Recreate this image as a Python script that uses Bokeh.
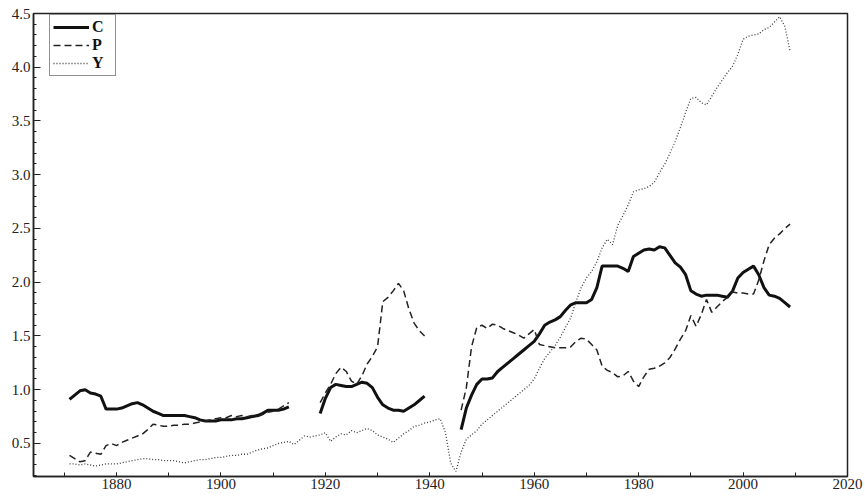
import numpy as np
from bokeh.plotting import figure
from bokeh.models import Range1d, FixedTicker, Legend, LegendItem, CustomJSTickFormatter
from bokeh.embed import file_html
from bokeh.resources import INLINE

# ---------------- data ----------------
years = list(range(1871, 2010))

# C series (solid) - three segments
C_seg1_start = 1871
C_seg1 = [0.91, 0.95, 0.99, 1.00, 0.97, 0.96, 0.94, 0.82, 0.82, 0.82,
          0.83, 0.85, 0.87, 0.88, 0.86, 0.83, 0.80, 0.78, 0.76, 0.76,
          0.76, 0.76, 0.76, 0.75, 0.74, 0.72, 0.71, 0.71, 0.71, 0.72,
          0.72, 0.72, 0.73, 0.73, 0.74, 0.75, 0.76, 0.78, 0.81, 0.81,
          0.81, 0.82, 0.84]
C_seg2_start = 1919
C_seg2 = [0.78, 0.92, 1.02, 1.05, 1.04, 1.03, 1.03, 1.05, 1.07, 1.06,
          1.02, 0.93, 0.86, 0.83, 0.81, 0.81, 0.80, 0.83, 0.86, 0.90, 0.94]
C_seg3_start = 1946
C_seg3 = [0.63, 0.83, 0.95, 1.05, 1.10, 1.10, 1.11, 1.17, 1.21, 1.25,
          1.29, 1.33, 1.37, 1.41, 1.45, 1.52, 1.60, 1.63, 1.65, 1.68,
          1.74, 1.79, 1.81, 1.81, 1.81, 1.84, 1.95, 2.15, 2.15, 2.15,
          2.15, 2.13, 2.10, 2.24, 2.27, 2.30, 2.31, 2.30, 2.33, 2.32,
          2.25, 2.18, 2.14, 2.07, 1.92, 1.89, 1.87, 1.88, 1.88, 1.88,
          1.87, 1.86, 1.92, 2.04, 2.09, 2.12, 2.15, 2.07, 1.95, 1.88,
          1.87, 1.85, 1.81, 1.77]

# P series (dashed) - three segments
P_seg1_start = 1871
P_seg1 = [0.39, 0.36, 0.33, 0.34, 0.42, 0.41, 0.40, 0.48, 0.50, 0.48,
          0.51, 0.53, 0.55, 0.57, 0.59, 0.63, 0.68, 0.67, 0.66, 0.66,
          0.67, 0.67, 0.68, 0.68, 0.69, 0.70, 0.71, 0.72, 0.73, 0.74,
          0.74, 0.76, 0.75, 0.76, 0.75, 0.76, 0.75, 0.77, 0.79, 0.80,
          0.82, 0.85, 0.88]
P_seg2_start = 1919
P_seg2 = [0.88, 0.97, 1.05, 1.15, 1.21, 1.17, 1.08, 1.05, 1.13, 1.24,
          1.31, 1.40, 1.82, 1.86, 1.92, 1.99, 1.92, 1.75, 1.62, 1.55, 1.50]
P_seg3_start = 1946
P_seg3 = [0.81, 1.02, 1.40, 1.58, 1.60, 1.57, 1.61, 1.60, 1.57, 1.55,
          1.53, 1.51, 1.48, 1.52, 1.56, 1.42, 1.41, 1.40, 1.39, 1.39,
          1.39, 1.40, 1.45, 1.48, 1.47, 1.42, 1.37, 1.22, 1.18, 1.16,
          1.12, 1.13, 1.17, 1.08, 1.03, 1.12, 1.19, 1.20, 1.22, 1.25,
          1.30, 1.38, 1.47, 1.55, 1.69, 1.59, 1.70, 1.84, 1.72, 1.77,
          1.82, 1.86, 1.91, 1.90, 1.90, 1.89, 1.89, 2.02, 2.20, 2.35,
          2.41, 2.45, 2.50, 2.54]

# Y series (dotted) - continuous 1871-2009
Y_vals = [0.31, 0.31, 0.30, 0.31, 0.30, 0.29, 0.30, 0.31, 0.31, 0.31,
          0.32, 0.33, 0.34, 0.35, 0.36, 0.36, 0.35, 0.35, 0.34, 0.34,
          0.34, 0.33, 0.32, 0.33, 0.34, 0.35, 0.35, 0.36, 0.37, 0.37,
          0.38, 0.39, 0.39, 0.40, 0.40, 0.42, 0.44, 0.45, 0.46, 0.48,
          0.50, 0.51, 0.52, 0.49, 0.53, 0.57, 0.56, 0.57, 0.58, 0.60,
          0.52, 0.56, 0.59, 0.58, 0.62, 0.60, 0.62, 0.64, 0.62, 0.58,
          0.56, 0.54, 0.51, 0.55, 0.59, 0.62, 0.66, 0.67, 0.69, 0.70,
          0.72, 0.73, 0.60, 0.32, 0.24, 0.42, 0.54, 0.58, 0.62, 0.68,
          0.72, 0.76, 0.80, 0.84, 0.88, 0.92, 0.96, 1.00, 1.04, 1.10,
          1.20, 1.29, 1.35, 1.41, 1.49, 1.58, 1.67, 1.82, 1.95, 2.04,
          2.10, 2.19, 2.32, 2.40, 2.35, 2.53, 2.62, 2.72, 2.84, 2.86,
          2.87, 2.89, 2.93, 3.02, 3.10, 3.20, 3.31, 3.44, 3.58, 3.71,
          3.72, 3.67, 3.65, 3.73, 3.81, 3.88, 3.95, 4.01, 4.12, 4.26,
          4.29, 4.30, 4.31, 4.35, 4.37, 4.42, 4.47, 4.38, 4.15]

x_ticks = [1880, 1900, 1920, 1940, 1960, 1980, 2000, 2020]
x_minor = [1870, 1880, 1890, 1900, 1910, 1920, 1930, 1940, 1950, 1960,
           1970, 1980, 1990, 2000, 2010, 2020]
y_ticks = [0.5, 1.0, 1.5, 2.0, 2.5, 3.0, 3.5, 4.0, 4.5]
y_minor = [round(0.2 + 0.1 * i, 1) for i in range(44)]


def assemble(segments):
    arr = np.full(len(years), np.nan)
    for start, vals in segments:
        i0 = start - years[0]
        arr[i0:i0 + len(vals)] = vals
    return arr


C = assemble([(C_seg1_start, C_seg1), (C_seg2_start, C_seg2), (C_seg3_start, C_seg3)])
P = assemble([(P_seg1_start, P_seg1), (P_seg2_start, P_seg2), (P_seg3_start, P_seg3)])
Y = np.array(Y_vals, dtype=float)

FONT = "Liberation Serif"

p = figure(width=865, height=496, output_backend="svg", toolbar_location=None,
           x_range=Range1d(1864.1, 2020), y_range=Range1d(0.193, 4.5),
           min_border_left=33, min_border_right=18, min_border_top=13,
           min_border_bottom=20)
p.background_fill_color = "white"
p.border_fill_color = "white"
p.outline_line_color = "#222222"
p.outline_line_width = 1.5
p.xgrid.visible = False
p.ygrid.visible = False

lc = p.line(years, C, line_color="#111111", line_width=3.0)
lp = p.line(years, P, line_color="#222222", line_width=1.5, line_dash="7 4")
ly = p.line(years, Y, line_color="#3a3a3a", line_width=1.3, line_dash="1 2")

for ax in (p.xaxis[0], p.yaxis[0]):
    ax.axis_line_color = "#222222"
    ax.axis_line_width = 1.5
    ax.major_tick_line_color = "#222222"
    ax.minor_tick_line_color = "#222222"
    ax.major_tick_out = 0
    ax.minor_tick_out = 0
    ax.major_label_text_font = FONT
    ax.major_label_text_font_size = "15px"
    ax.major_label_text_color = "#222222"

p.xaxis[0].ticker = FixedTicker(ticks=x_ticks, minor_ticks=x_minor)
p.xaxis[0].major_tick_in = 4
p.xaxis[0].minor_tick_in = 4
p.xaxis[0].major_label_standoff = 2

p.yaxis[0].ticker = FixedTicker(ticks=y_ticks, minor_ticks=y_minor)
p.yaxis[0].major_tick_in = 7
p.yaxis[0].minor_tick_in = 3
p.yaxis[0].major_label_standoff = 3
p.yaxis[0].formatter = CustomJSTickFormatter(code="return tick.toFixed(1);")

legend = Legend(items=[LegendItem(label="C", renderers=[lc]),
                       LegendItem(label="P", renderers=[lp]),
                       LegendItem(label="Y", renderers=[ly])],
                location=(16, 400))
legend.label_text_font = FONT
legend.label_text_font_style = "bold"
legend.label_text_font_size = "16px"
legend.label_text_color = "#111111"
legend.border_line_color = "#222222"
legend.border_line_width = 1.5
legend.padding = 3
legend.spacing = 0
legend.margin = 0
legend.glyph_width = 36
legend.glyph_height = 16
legend.label_height = 16
legend.label_standoff = 3
legend.background_fill_alpha = 1.0
p.add_layout(legend)

open("out.html", "w").write(file_html(p, INLINE))
